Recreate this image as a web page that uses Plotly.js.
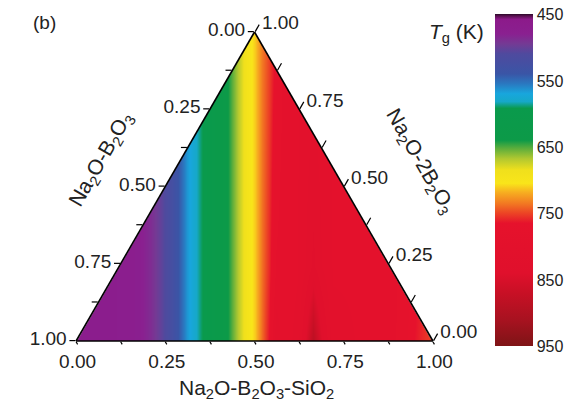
<!DOCTYPE html>
<html>
<head>
<meta charset="utf-8">
<script src="https://cdn.plot.ly/plotly-3.0.1.min.js"></script>
<style>html,body{margin:0;padding:0;background:#fff;}#chart{width:584px;height:406px;}</style>
</head>
<body>
<div id="chart"></div>
<script>
// ---- data ----
// fraction of Na2O-B2O3-SiO2 along the bottom edge (column positions)
var silicateFrac = [0.00,0.10,0.17,0.21,0.24,0.27,0.29,0.31,0.33,0.35,0.38,0.42,0.44,0.46,0.48,0.50,0.52,0.54,0.56,0.58,0.62,0.645,0.665,0.685,0.72,0.80,0.88,0.93,0.97,1.00];
// relative height inside the triangle for each row (0 = bottom edge, 1 = apex)
var heightFrac = [0, 0.24, 1];
// Tg (K) per row
var tgBottom = [468,470,475,488,505,525,545,565,578,590,605,635,655,675,695,712,740,765,805,790,800,845,885,845,800,795,790,770,758,750];
var tgMid    = [468,470,475,488,505,525,545,565,578,590,605,635,655,675,695,712,738,758,785,790,795,810,825,810,795,795,790,775,762,752];
var tgTop    = [468,470,475,488,505,525,545,565,578,590,605,635,655,675,695,712,735,750,768,785,795,800,800,800,795,795,790,780,770,760];

var tickPos    = [0,0.125,0.25,0.375,0.5,0.625,0.75,0.875,1];
var tickRevTxt = ['1.00','','0.75','','0.50','','0.25','','0.00'];
var cbTicks    = [450,550,650,750,850,950];

// ---- build ----
var H = Math.sqrt(3)/2;
var tgRows = [tgBottom, tgMid, tgTop];
var zRev = tgRows.map(function(r){return r.map(function(v){return -v;});});
var yRows = heightFrac.map(function(f){return f*H;});

// colorscale: t = (950 - Tg)/500
var cscale = [
 [0.00,'#7e1416'],[0.08,'#a81220'],[0.16,'#c81025'],[0.22,'#e0102c'],
 [0.37,'#e6122c'],[0.40,'#ec4425'],[0.43,'#f27a22'],[0.464,'#f7b020'],
 [0.49,'#f9e51a'],[0.53,'#f0e01c'],[0.564,'#b2c830'],[0.596,'#5aad3c'],
 [0.62,'#0c9a48'],[0.716,'#0a9a4c'],[0.736,'#16a8c8'],[0.76,'#18a6dd'],
 [0.79,'#2a78c0'],[0.82,'#3a55a6'],[0.88,'#4f4a9e'],[0.91,'#743a94'],
 [0.94,'#8a2090'],[0.984,'#8c1a8a'],[0.994,'#5a1050'],[1.00,'#2a0a28']
];

var W = 584, HH = 406;
var px = function(x){return x/W;};
var py = function(y){return 1 - y/HH;};
var L = 76, R = 433, B = 341, T = 32;            // pixel frame of the triangle
var xDom = [px(L), px(R)];
var yDom = [py(B), py(T)];
var yTop = (B - T) / (R - L);                     // pixel-aligned top of the data range

var heat = {
  type:'heatmap', x: silicateFrac, y: yRows, z: zRev,
  zsmooth:'best', colorscale: cscale, zmin:-950, zmax:-450,
  hoverinfo:'skip', xaxis:'x', yaxis:'y',
  colorbar:{
    x: px(495), xanchor:'left', xpad:0, y: py(180.5), yanchor:'middle', ypad:0,
    lenmode:'pixels', len:332, thicknessmode:'pixels', thickness:38,
    outlinewidth:0, ticks:'', tickmode:'array',
    tickvals: cbTicks.map(function(v){return -v;}),
    ticktext: cbTicks.map(String),
    tickfont:{family:'Liberation Sans, Arial, sans-serif', size:16, color:'#222'}
  }
};
// white masks outside the triangle (geometry of the frame)
var maskL = {type:'scatter', x:[-0.02,0,0.5,0.5,-0.02], y:[-0.005,-0.005,H,H+0.02,H+0.02], fill:'toself',
  fillcolor:'#fff', line:{width:0,color:'#fff'}, mode:'lines', hoverinfo:'skip', xaxis:'x', yaxis:'y'};
var maskR = {type:'scatter', x:[1.02,1,0.5,0.5,1.02], y:[-0.005,-0.005,H,H+0.02,H+0.02], fill:'toself',
  fillcolor:'#fff', line:{width:0,color:'#fff'}, mode:'lines', hoverinfo:'skip', xaxis:'x', yaxis:'y'};
var tern = {type:'scatterternary', a:[], b:[], c:[], mode:'markers', hoverinfo:'skip', subplot:'ternary'};

var fontF = 'Liberation Sans, Arial, sans-serif';
function taxis(len){
  return {
    title:{text:''}, tickmode:'array', tickvals: tickPos, ticktext: tickRevTxt,
    ticks:'outside', ticklen:len, tickwidth:1.2, tickcolor:'#000',
    showline:true, linecolor:'#000', linewidth:1.6, showgrid:false,
    tickfont:{family:fontF, size:19, color:'#222'}, layer:'above traces'
  };
}
function ann(text, x, y, size, angle){
  return {text:text, x:px(x), y:py(y), xref:'paper', yref:'paper', showarrow:false,
    xanchor:'center', yanchor:'middle', textangle:angle||0,
    font:{family:fontF, size:size, color:'#222'}};
}

var layout = {
  width:W, height:HH, margin:{l:0,r:0,t:0,b:0,autoexpand:false},
  paper_bgcolor:'#fff', plot_bgcolor:'#fff', showlegend:false,
  xaxis:{domain:xDom, range:[0,1], visible:false, fixedrange:true},
  yaxis:{domain:yDom, range:[0,yTop], visible:false, fixedrange:true},
  ternary:{domain:{x:xDom, y:yDom}, sum:1, bgcolor:'rgba(0,0,0,0)',
    aaxis:taxis(6), baxis:taxis(3), caxis:taxis(8)},
  annotations:[
    ann('(b)', 44, 22, 19),
    ann('<i>T</i><sub>g</sub> (K)', 456, 33, 21),
    ann('Na<sub>2</sub>O-B<sub>2</sub>O<sub>3</sub>-SiO<sub>2</sub>', 256, 389, 21),
    ann('Na<sub>2</sub>O-B<sub>2</sub>O<sub>3</sub>', 101, 160, 21, -60),
    ann('Na<sub>2</sub>O-2B<sub>2</sub>O<sub>3</sub>', 420, 161, 21, 60)
  ]
};

Plotly.newPlot('chart', [heat, maskL, maskR, tern], layout, {displayModeBar:false, staticPlot:true});
</script>
</body>
</html>
